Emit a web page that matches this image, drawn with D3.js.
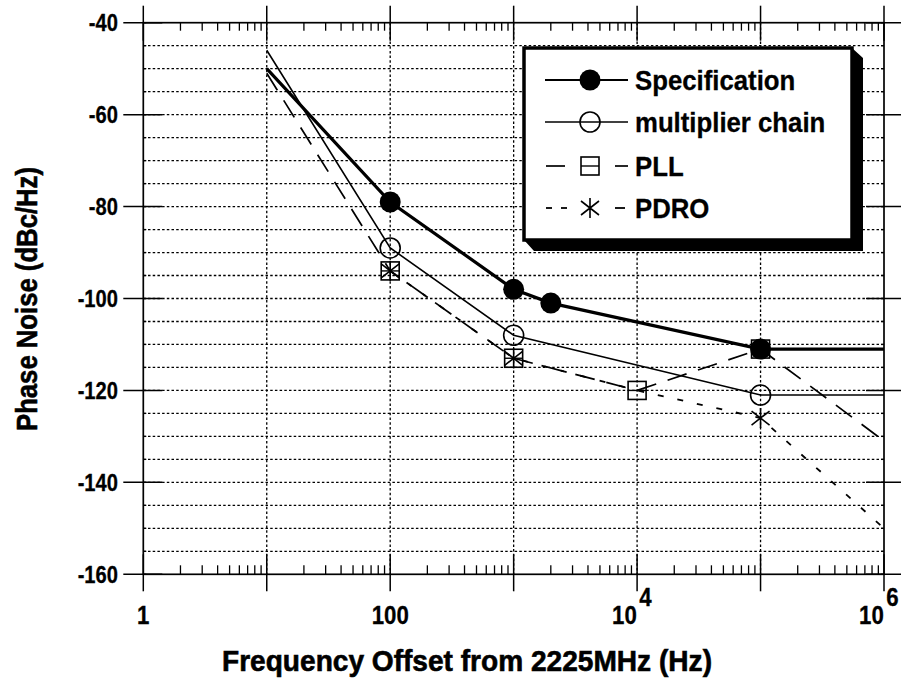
<!DOCTYPE html>
<html><head><meta charset="utf-8">
<script src="https://cdn.jsdelivr.net/npm/d3@7"></script>
<style>
html,body{margin:0;padding:0;background:#fff;}
svg{display:block;}
text{font-family:"Liberation Sans",Arial,Helvetica,sans-serif;fill:#000;}
</style></head>
<body>
<svg id="c" width="908" height="679"></svg>
<script>
// ---- data ----
const specFreq = [10, 100, 1000, 2000, 1e5, 1e6];
const specDb   = [-50, -79, -98, -101, -111, -111];
const specMarks = [100, 1000, 2000, 1e5];

const multFreq = [10, 100, 1000, 1e5, 1e6];
const multDb   = [-46, -89, -108, -121, -121];
const multMarks = [100, 1000, 1e5];

const pllFreq = [10, 100, 1000, 1e4, 1e5, 1e6];
const pllDb   = [-51, -94, -113, -120, -111, -131];
const pllMarks = [100, 1000, 1e4, 1e5];

const pdroFreq = [100, 1000, 1e4, 1e5, 1e6];
const pdroDb   = [-94, -113, -120, -126, -150];
const pdroMarks = [100, 1000, 1e5];

const xMajor = [1, 10, 100, 1e3, 1e4, 1e5, 1e6];
const xLabelVals = [1, 100, 1e4, 1e6];
const xLabelBase = ["1", "100", "10", "10"];
const xLabelExp  = ["", "", "4", "6"];
const yMajor = [-40, -60, -80, -100, -120, -140, -160];
const legendNames = ["Specification", "multiplier chain", "PLL", "PDRO"];

// ---- layout ----
const L = 143.3, R = 884, T = 22.7, B = 574.3;
const svg = d3.select("#c");
const x = d3.scaleLog().domain([1, 1e6]).range([L, R]);
const y = d3.scaleLinear().domain([-160, -40]).range([B, T]);

const yMinor = d3.range(-160, -39, 5);
const xMinor = [];
for (let d = 0; d < 6; d++) for (let k = 2; k <= 9; k++) xMinor.push(k * Math.pow(10, d));

const g = svg.append("g");
g.selectAll(".hg").data(yMinor.filter(v => v > -160 && v < -40)).join("line")
  .attr("x1", L).attr("x2", R).attr("y1", d => y(d)).attr("y2", d => y(d))
  .attr("stroke", "#000").attr("stroke-width", 1.3).attr("stroke-dasharray", "2.5,2.2");
g.selectAll(".vg").data(xMajor.slice(1, -1)).join("line")
  .attr("x1", d => x(d)).attr("x2", d => x(d)).attr("y1", T).attr("y2", B)
  .attr("stroke", "#000").attr("stroke-width", 1.3).attr("stroke-dasharray", "2.5,2.2");

g.append("rect").attr("x", L).attr("y", T).attr("width", R - L).attr("height", B - T)
  .attr("fill", "none").attr("stroke", "#000").attr("stroke-width", 1.7);

xMinor.forEach(v => {
  g.append("line").attr("x1", x(v)).attr("x2", x(v)).attr("y1", B).attr("y2", B - 9).attr("stroke", "#000").attr("stroke-width", 1.3);
  g.append("line").attr("x1", x(v)).attr("x2", x(v)).attr("y1", T).attr("y2", T + 8).attr("stroke", "#000").attr("stroke-width", 1.3);
});
xMajor.forEach(v => {
  g.append("line").attr("x1", x(v)).attr("x2", x(v)).attr("y1", B - 20).attr("y2", B + 17).attr("stroke", "#000").attr("stroke-width", 1.5);
  g.append("line").attr("x1", x(v)).attr("x2", x(v)).attr("y1", T - 17).attr("y2", T + 18).attr("stroke", "#000").attr("stroke-width", 1.5);
});
yMinor.forEach(v => {
  g.append("line").attr("x1", L).attr("x2", L + 3).attr("y1", y(v)).attr("y2", y(v)).attr("stroke", "#000").attr("stroke-width", 1.3);
  g.append("line").attr("x1", R).attr("x2", R - 3).attr("y1", y(v)).attr("y2", y(v)).attr("stroke", "#000").attr("stroke-width", 1.3);
});
yMajor.forEach(v => {
  g.append("line").attr("x1", L - 20).attr("x2", L + 19).attr("y1", y(v)).attr("y2", y(v)).attr("stroke", "#000").attr("stroke-width", 1.5);
  g.append("line").attr("x1", R - 18).attr("x2", R + 17).attr("y1", y(v)).attr("y2", y(v)).attr("stroke", "#000").attr("stroke-width", 1.5);
});

// tick labels (narrow face emulated by horizontal scaling)
const SX = 0.84;
g.selectAll(".yl").data(yMajor).join("text")
  .attr("transform", d => `translate(118,${y(d) + 8.5}) scale(${SX},1)`)
  .attr("text-anchor", "end")
  .attr("font-size", 24).attr("font-weight", "bold")
  .attr("stroke", "#000").attr("stroke-width", 0.3).text(d => d);
xLabelVals.forEach((v, i) => {
  const t = g.append("text").attr("font-size", 26.5).attr("font-weight", "bold")
    .attr("stroke", "#000").attr("stroke-width", 0.3);
  if (xLabelExp[i]) {
    t.attr("transform", `translate(${x(v) - 25},624) scale(${SX},1)`);
    t.append("tspan").text(xLabelBase[i]);
    t.append("tspan").attr("dy", -18).attr("dx", 3).text(xLabelExp[i]);
  } else {
    t.attr("transform", `translate(${x(v)},624) scale(${SX},1)`).attr("text-anchor", "middle").text(xLabelBase[i]);
  }
});

// titles
g.append("text").attr("x", 467).attr("y", 671).attr("text-anchor", "middle")
  .attr("font-size", 29).attr("font-weight", "bold")
  .attr("stroke", "#000").attr("stroke-width", 0.6)
  .attr("textLength", 490).attr("lengthAdjust", "spacingAndGlyphs")
  .text("Frequency Offset from 2225MHz (Hz)");
g.append("text").attr("transform", "translate(37,299) rotate(-90)").attr("text-anchor", "middle")
  .attr("font-size", 29).attr("font-weight", "bold")
  .attr("stroke", "#000").attr("stroke-width", 0.6)
  .attr("textLength", 264).attr("lengthAdjust", "spacingAndGlyphs")
  .text("Phase Noise (dBc/Hz)");

// series
const line = d3.line().x(d => x(d[0])).y(d => y(d[1]));
const zip = (a, b) => a.map((v, i) => [v, b[i]]);
const series = [
  {f: specFreq, v: specDb, m: specMarks, w: 3.2, dash: null, mark: "fcircle", leg: [[545, 628]]},
  {f: multFreq, v: multDb, m: multMarks, w: 1.6, dash: null, mark: "ocircle", leg: [[545, 628]]},
  {f: pllFreq, v: pllDb, m: pllMarks, w: 1.7, dash: "20,12", mark: "square", leg: [[546, 565], [615, 628]]},
  {f: pdroFreq, v: pdroDb, m: pdroMarks, w: 1.8, dash: "6,14", mark: "star", leg: [[546, 552], [561, 567], [615, 625]]}
];
const plot = svg.append("g");
series.forEach(s => {
  plot.append("path").attr("d", line(zip(s.f, s.v))).attr("fill", "none")
    .attr("stroke", "#000").attr("stroke-width", s.w)
    .attr("stroke-dasharray", s.dash);
});
function marker(sel, type, cx, cy) {
  if (type === "fcircle") {
    sel.append("circle").attr("cx", cx).attr("cy", cy).attr("r", 10.5).attr("fill", "#000");
  } else if (type === "ocircle") {
    sel.append("circle").attr("cx", cx).attr("cy", cy).attr("r", 10).attr("fill", "none").attr("stroke", "#000").attr("stroke-width", 1.6);
  } else if (type === "square") {
    sel.append("rect").attr("x", cx - 9).attr("y", cy - 9).attr("width", 18).attr("height", 18).attr("fill", "none").attr("stroke", "#000").attr("stroke-width", 1.6);
    sel.append("line").attr("x1", cx - 9).attr("x2", cx + 9).attr("y1", cy).attr("y2", cy).attr("stroke", "#000").attr("stroke-width", 1.4);
  } else if (type === "star") {
    sel.append("path").attr("d", `M${cx},${cy - 10}L${cx},${cy + 10}M${cx - 9},${cy - 7}L${cx + 9},${cy + 7}M${cx - 9},${cy + 7}L${cx + 9},${cy - 7}`)
      .attr("stroke", "#000").attr("stroke-width", 1.6).attr("fill", "none");
  }
}
[2, 3, 1, 0].forEach(i => {
  const s = series[i];
  s.m.forEach(f => marker(plot, s.mark, x(f), y(s.v[s.f.indexOf(f)])));
});

// legend
const lg = svg.append("g");
lg.append("path").attr("d", "M852,48L863,58L863,251L534,251L524,240L852,240Z").attr("fill", "#000");
lg.append("rect").attr("x", 524).attr("y", 48).attr("width", 328).attr("height", 192)
  .attr("fill", "#fff").attr("stroke", "#000").attr("stroke-width", 3.5);
const rowsY = [80, 122, 166, 208];
series.forEach((s, i) => {
  const yy = rowsY[i];
  s.leg.forEach(seg => {
    lg.append("line").attr("x1", seg[0]).attr("x2", seg[1]).attr("y1", yy).attr("y2", yy)
      .attr("stroke", "#000").attr("stroke-width", s.w === 3.2 ? 2 : s.w);
  });
  marker(lg, s.mark, 590, yy);
  lg.append("text").attr("transform", `translate(635,${yy + 10}) scale(0.92,1)`)
    .attr("font-size", 28).attr("font-weight", "bold")
    .attr("stroke", "#000").attr("stroke-width", 0.3)
    .text(legendNames[i]);
});
</script>
</body></html>
